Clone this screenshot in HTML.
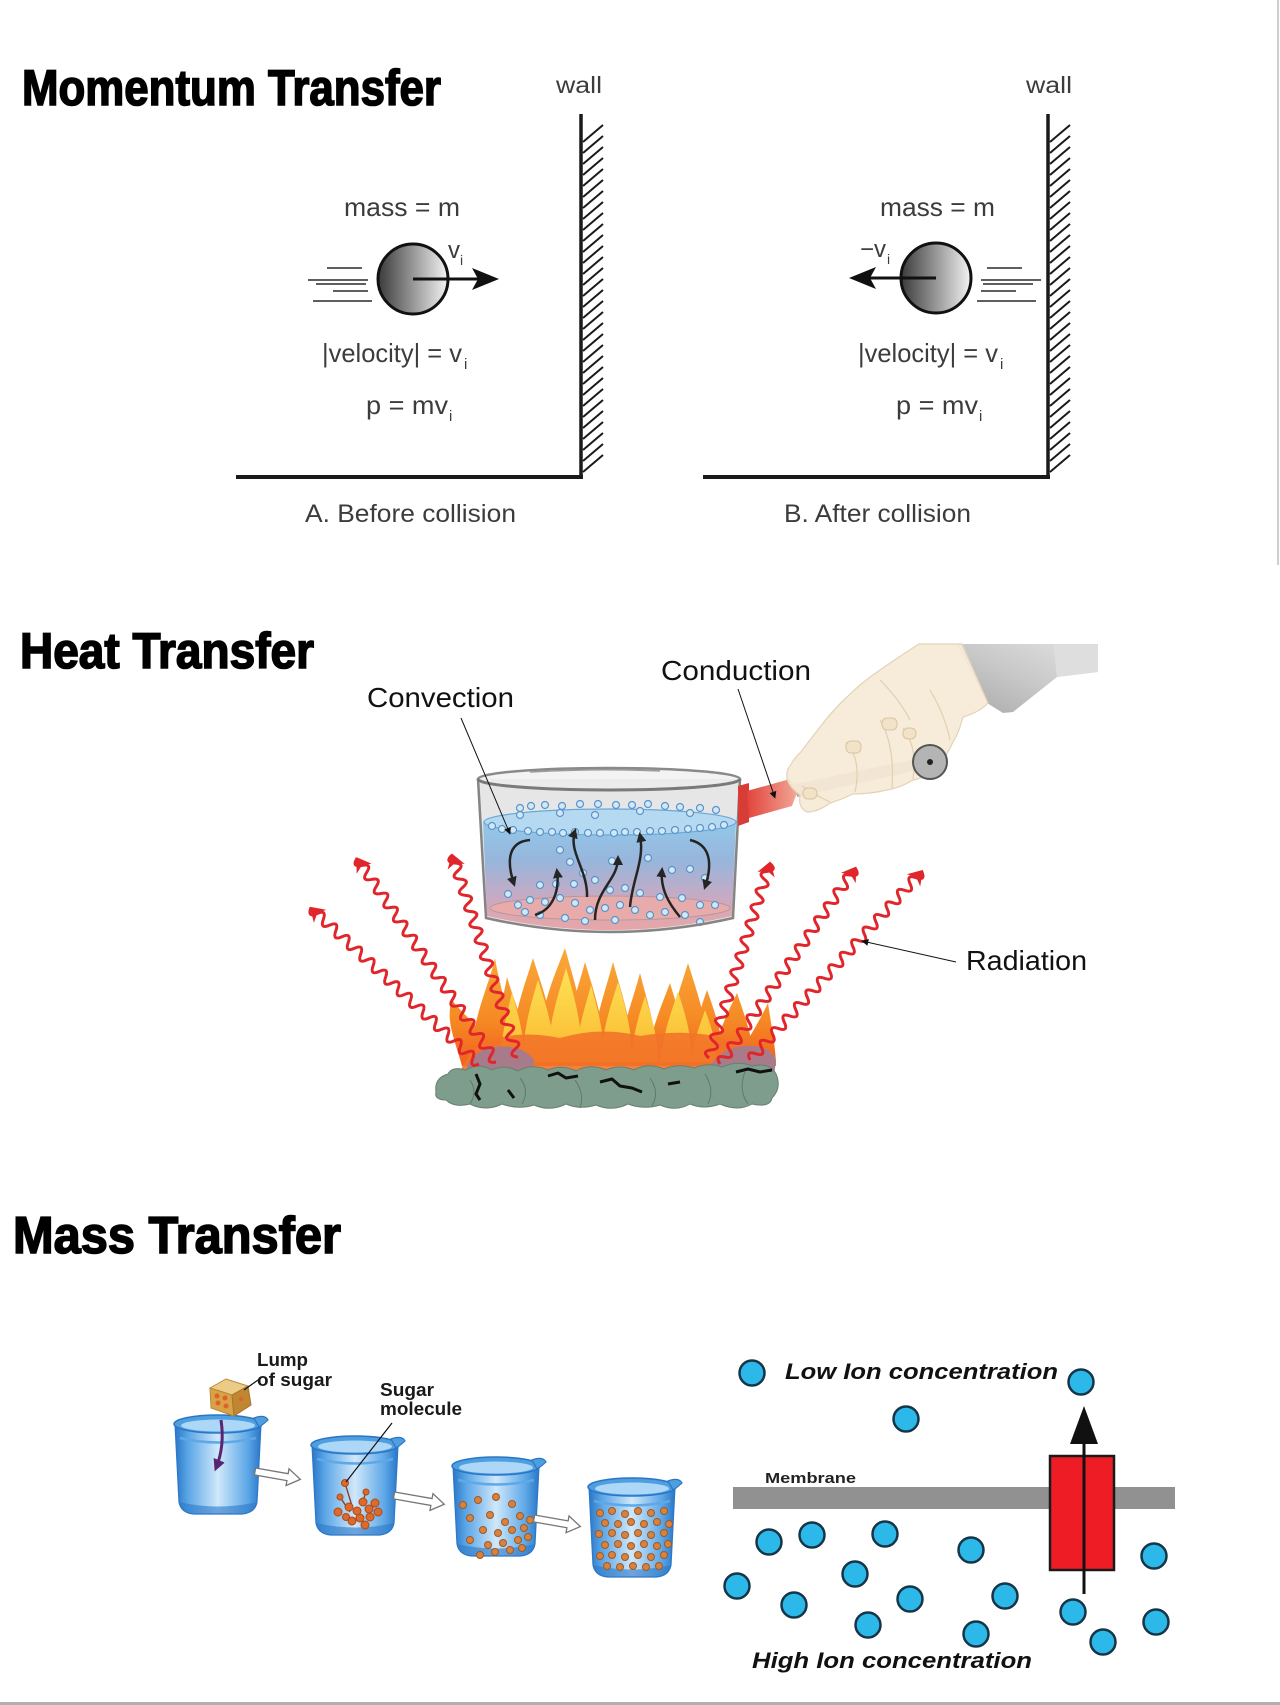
<!DOCTYPE html>
<html><head><meta charset="utf-8"><style>
html,body{margin:0;padding:0;background:#fff;}
svg{display:block;}
.t{font-family:"Liberation Sans",Arial,sans-serif;}
</style></head><body>
<svg width="1280" height="1705" viewBox="0 0 1280 1705" xmlns="http://www.w3.org/2000/svg">
<defs>
<linearGradient id="ball" x1="0" y1="0" x2="1" y2="0"><stop offset="0" stop-color="#3a3a3a"/><stop offset="1" stop-color="#f4f4f4"/></linearGradient>
<linearGradient id="water" gradientUnits="userSpaceOnUse" x1="0" y1="822" x2="0" y2="935"><stop offset="0" stop-color="#8ccaf0"/><stop offset="0.35" stop-color="#93b5e0"/><stop offset="0.7" stop-color="#cfa7c2"/><stop offset="1" stop-color="#f3a29e"/></linearGradient>
<linearGradient id="bkg" x1="0" y1="0" x2="1" y2="0"><stop offset="0" stop-color="#2a76c6"/><stop offset="0.15" stop-color="#5ba6e6"/><stop offset="0.5" stop-color="#cfe8fb"/><stop offset="0.85" stop-color="#5ba6e6"/><stop offset="1" stop-color="#2a76c6"/></linearGradient>
<linearGradient id="sleeve" x1="0" y1="1" x2="1" y2="0"><stop offset="0" stop-color="#a9a9a9"/><stop offset="0.5" stop-color="#c9c9c9"/><stop offset="1" stop-color="#e2e2e2"/></linearGradient>
<linearGradient id="handle" x1="0" y1="0" x2="1" y2="0"><stop offset="0" stop-color="#e2443c"/><stop offset="1" stop-color="#f2a898"/></linearGradient>
<linearGradient id="fo" gradientUnits="userSpaceOnUse" x1="0" y1="950" x2="0" y2="1066"><stop offset="0" stop-color="#f9a93a"/><stop offset="0.6" stop-color="#f68a24"/><stop offset="1" stop-color="#f0601f"/></linearGradient>
<linearGradient id="fy" gradientUnits="userSpaceOnUse" x1="0" y1="960" x2="0" y2="1066"><stop offset="0" stop-color="#fde65a"/><stop offset="0.7" stop-color="#fcc43a"/><stop offset="1" stop-color="#f7962a"/></linearGradient>
<marker id="ah" viewBox="0 0 10 10" refX="7" refY="5" markerWidth="4" markerHeight="4" orient="auto"><path d="M0,0 L10,5 L0,10 z" fill="#111"/></marker>
<marker id="ahs" viewBox="0 0 10 10" refX="9" refY="5" markerUnits="userSpaceOnUse" markerWidth="9" markerHeight="7" orient="auto"><path d="M0,0 L10,5 L0,10 z" fill="#111"/></marker>
<marker id="ahp" viewBox="0 0 10 10" refX="7" refY="5" markerWidth="4" markerHeight="4" orient="auto"><path d="M0,0 L10,5 L0,10 z" fill="#5a2470"/></marker>
<g id="bk">
  <path d="M3,10 L7,88 Q9,99 22,100 L70,100 Q83,99 85,88 L89,10 Z" fill="url(#bkg)" stroke="#2d78c8" stroke-width="1.2"/>
  <path d="M7,88 Q9,99 22,100 L70,100 Q83,99 85,88 Q46,97 7,88Z" fill="#2d78c8" opacity="0.6"/>
  <path d="M8,24 Q46,33 84,24" stroke="#5ea8e8" stroke-width="2.5" fill="none"/>
  <ellipse cx="46" cy="10" rx="44" ry="9" fill="#4f9ee0" stroke="#2a76c6" stroke-width="1.5"/>
  <ellipse cx="46" cy="11.5" rx="37" ry="6" fill="#acd7f6"/>
  <path d="M82,4 Q93,0 96,6 Q92,10 87,13 Z" fill="#4f9ee0" stroke="#2a76c6" stroke-width="1.2"/>
</g>
</defs>

<!-- borders -->
<line x1="1278" y1="0" x2="1278" y2="565" stroke="#cfcfcf" stroke-width="2"/>
<rect x="0" y="1702" width="1280" height="3" fill="#b0b0b0"/>

<!-- ============ MOMENTUM ============ -->
<text class="t" x="22" y="105" font-size="50" font-weight="bold" stroke="#000" stroke-width="1.6" textLength="419" lengthAdjust="spacingAndGlyphs">Momentum Transfer</text>

<g fill="#3c3c3c" class="t">
<text class="t" x="556" y="93" font-size="23" textLength="46" lengthAdjust="spacingAndGlyphs">wall</text>
<text class="t" x="1026" y="93" font-size="23" textLength="46" lengthAdjust="spacingAndGlyphs">wall</text>
<text class="t" x="344" y="216" font-size="26" textLength="116" lengthAdjust="spacingAndGlyphs">mass = m</text>
<text class="t" x="880" y="216" font-size="26" textLength="115" lengthAdjust="spacingAndGlyphs">mass = m</text>
<text class="t" x="448" y="258" font-size="24">v</text><text class="t" x="460" y="265" font-size="14">i</text>
<text class="t" x="860" y="257" font-size="24" textLength="26" lengthAdjust="spacingAndGlyphs">−v</text><text class="t" x="887" y="264" font-size="14">i</text>
<text class="t" x="322" y="362" font-size="26" textLength="140" lengthAdjust="spacingAndGlyphs">|velocity| = v</text><text class="t" x="464" y="369" font-size="15">i</text>
<text class="t" x="858" y="362" font-size="26" textLength="140" lengthAdjust="spacingAndGlyphs">|velocity| = v</text><text class="t" x="1000" y="369" font-size="15">i</text>
<text class="t" x="366" y="414" font-size="26" textLength="82" lengthAdjust="spacingAndGlyphs">p = mv</text><text class="t" x="449" y="421" font-size="15">i</text>
<text class="t" x="896" y="414" font-size="26" textLength="82" lengthAdjust="spacingAndGlyphs">p = mv</text><text class="t" x="979" y="421" font-size="15">i</text>
<text class="t" x="305" y="522" font-size="25" textLength="211" lengthAdjust="spacingAndGlyphs">A. Before collision</text>
<text class="t" x="784" y="522" font-size="25" textLength="187" lengthAdjust="spacingAndGlyphs">B. After collision</text>
</g>

<!-- walls & floors -->
<g stroke="#1a1a1a" fill="none">
<line x1="581" y1="114" x2="581" y2="479" stroke-width="3.5"/>
<line x1="236" y1="477" x2="583" y2="477" stroke-width="4"/>
<line x1="1048" y1="114" x2="1048" y2="479" stroke-width="3.5"/>
<line x1="703" y1="477" x2="1050" y2="477" stroke-width="4"/>
<path stroke-width="2" d="M583,142l20,-17m-20,28l20,-17m-20,28l20,-17m-20,28l20,-17m-20,28l20,-17m-20,28l20,-17m-20,28l20,-17m-20,28l20,-17m-20,28l20,-17m-20,28l20,-17m-20,28l20,-17m-20,28l20,-17m-20,28l20,-17m-20,28l20,-17m-20,28l20,-17m-20,28l20,-17m-20,28l20,-17m-20,28l20,-17m-20,28l20,-17m-20,28l20,-17m-20,28l20,-17m-20,28l20,-17m-20,28l20,-17m-20,28l20,-17m-20,28l20,-17m-20,28l20,-17m-20,28l20,-17m-20,28l20,-17m-20,28l20,-17m-20,28l20,-17m-20,28l20,-17"/>
<path stroke-width="2" d="M1050,142l20,-17m-20,28l20,-17m-20,28l20,-17m-20,28l20,-17m-20,28l20,-17m-20,28l20,-17m-20,28l20,-17m-20,28l20,-17m-20,28l20,-17m-20,28l20,-17m-20,28l20,-17m-20,28l20,-17m-20,28l20,-17m-20,28l20,-17m-20,28l20,-17m-20,28l20,-17m-20,28l20,-17m-20,28l20,-17m-20,28l20,-17m-20,28l20,-17m-20,28l20,-17m-20,28l20,-17m-20,28l20,-17m-20,28l20,-17m-20,28l20,-17m-20,28l20,-17m-20,28l20,-17m-20,28l20,-17m-20,28l20,-17m-20,28l20,-17m-20,28l20,-17"/>
</g>
<!-- balls -->
<g stroke="#2a2a2a" stroke-width="1.6">
<path d="M327,268H362M308,280H368M316,284H366M333,291H368M313,301H372"/>
<path d="M1022,268H987M1041,280H981M1033,284H983M1016,291H981M1036,301H977"/>
</g>
<circle cx="413" cy="279" r="35" fill="url(#ball)" stroke="#111" stroke-width="3"/>
<line x1="413" y1="279" x2="478" y2="279" stroke="#111" stroke-width="3"/>
<polygon points="499,279 472,268 478,279 472,290" fill="#111"/>
<circle cx="936" cy="278" r="35" fill="url(#ball)" stroke="#111" stroke-width="3"/>
<line x1="936" y1="278" x2="870" y2="278" stroke="#111" stroke-width="3"/>
<polygon points="849,278 876,267 870,278 876,289" fill="#111"/>

<!-- ============ HEAT ============ -->
<text class="t" x="20" y="668" font-size="50" font-weight="bold" stroke="#000" stroke-width="1.6" textLength="294" lengthAdjust="spacingAndGlyphs">Heat Transfer</text>
<text class="t" x="367" y="707" font-size="28" fill="#111" textLength="147" lengthAdjust="spacingAndGlyphs">Convection</text>
<text class="t" x="661" y="680" font-size="28" fill="#111" textLength="150" lengthAdjust="spacingAndGlyphs">Conduction</text>
<text class="t" x="966" y="970" font-size="28" fill="#111" textLength="121" lengthAdjust="spacingAndGlyphs">Radiation</text>

<!-- fire -->
<g>
<g fill="url(#fo)">
<path d="M462,1066 C455,1040 445,1020 452,1000 C468,1020 492,1040 518,1066 Z"/>
<path d="M472,1066 C470,1020 488,990 495,958 C500,990 515,1030 512,1066 Z"/>
<path d="M492,1066 C495,1025 503,1000 507,977 C515,1005 530,1035 528,1066Z"/>
<path d="M510,1066 C512,1015 525,985 533,958 C543,990 558,1030 555,1066Z"/>
<path d="M535,1066 C540,1005 555,975 565,948 C575,985 590,1030 585,1066Z"/>
<path d="M562,1066 C565,1020 578,990 585,962 C595,995 608,1035 605,1066Z"/>
<path d="M590,1066 C595,1015 606,990 613,962 C622,995 636,1035 632,1066Z"/>
<path d="M618,1066 C622,1025 633,1000 640,973 C648,1005 660,1040 656,1066Z"/>
<path d="M646,1066 C650,1030 662,1005 670,983 C678,1010 690,1045 686,1066Z"/>
<path d="M664,1066 C668,1020 680,990 688,963 C698,995 712,1035 708,1066Z"/>
<path d="M688,1066 C692,1035 700,1010 707,990 C716,1015 726,1045 722,1066Z"/>
<path d="M712,1066 C716,1035 728,1012 737,993 C746,1020 756,1045 752,1066Z"/>
<path d="M732,1066 C748,1040 760,1020 768,1003 C772,1030 776,1050 776,1066Z"/>
</g>
<g fill="url(#fy)">
<path d="M500,1062 C502,1030 508,1010 512,992 C518,1015 526,1040 524,1062Z"/>
<path d="M522,1062 C524,1025 532,1000 538,980 C546,1005 556,1035 553,1062Z"/>
<path d="M546,1062 C550,1015 560,990 566,968 C574,995 584,1030 581,1062Z"/>
<path d="M575,1062 C578,1025 586,1005 591,985 C598,1010 606,1040 603,1062Z"/>
<path d="M600,1062 C604,1020 613,1000 618,982 C626,1008 634,1040 631,1062Z"/>
<path d="M630,1062 C634,1030 640,1012 645,996 C652,1018 660,1045 657,1062Z"/>
<path d="M660,1062 C664,1030 672,1010 678,992 C686,1015 694,1045 690,1062Z"/>
<path d="M690,1062 C694,1040 700,1025 705,1010 C712,1028 718,1048 715,1062Z"/>
</g>
<path d="M460,1072 Q470,1046 492,1040 Q520,1030 560,1038 Q600,1026 640,1036 Q690,1028 730,1040 Q762,1046 774,1070 Z" fill="#f27328" opacity="0.9"/>
<path d="M465,1074 Q470,1050 495,1047 Q522,1044 534,1060 L532,1076 Z" fill="#a87b8b"/>
<path d="M710,1068 Q718,1049 744,1046 Q770,1044 776,1060 L774,1076 Z" fill="#a87b8b"/>
<path d="M436,1092 Q434,1078 448,1074 Q452,1066 466,1070 Q478,1062 492,1070 Q505,1064 518,1071 Q532,1063 548,1070 Q562,1064 576,1071 Q590,1063 606,1070 Q620,1064 634,1070 Q648,1062 664,1069 Q678,1063 694,1068 Q708,1062 722,1067 Q738,1060 752,1066 Q770,1062 776,1074 Q782,1088 772,1098 Q770,1108 752,1104 Q738,1112 720,1104 Q704,1110 690,1104 Q676,1112 660,1105 Q644,1110 628,1104 Q612,1112 596,1105 Q580,1110 566,1104 Q550,1112 534,1105 Q518,1110 502,1104 Q486,1112 470,1104 Q454,1108 446,1100 Q434,1100 436,1092 Z" fill="#7f9d8d" stroke="#66806f" stroke-width="1"/>
<g stroke="#5f7a6c" stroke-width="1" fill="none">
<path d="M470,1080 Q478,1092 470,1104"/><path d="M520,1078 Q530,1090 522,1104"/><path d="M575,1080 Q585,1094 580,1108"/><path d="M650,1078 Q660,1092 652,1106"/><path d="M705,1074 Q715,1090 708,1104"/><path d="M745,1072 Q738,1090 748,1104"/>
</g>
<g stroke="#111" stroke-width="3" fill="none" stroke-linejoin="round">
<path d="M476,1074 L480,1084 L476,1094 L480,1100"/>
<path d="M548,1076 L558,1073 L566,1078 L578,1076"/>
<path d="M600,1082 L612,1079 L620,1086 L632,1088 L642,1092"/>
<path d="M736,1072 L748,1069 L760,1072 L772,1070"/>
<path d="M508,1090 L514,1098"/>
<path d="M668,1084 L680,1082"/>
</g>
</g>

<!-- radiation waves -->
<g stroke="#e0262b" stroke-width="3" fill="none">
<path transform="translate(479,1064) rotate(-137.1)" d="M0,0 q4.25,-10 8.5,0 t8.5,0 t8.5,0 t8.5,0 t8.5,0 t8.5,0 t8.5,0 t8.5,0 t8.5,0 t8.5,0 t8.5,0 t8.5,0 t8.5,0 t8.5,0 t8.5,0 t8.5,0 t8.5,0 t8.5,0 t8.5,0 t8.5,0 t8.5,0 t8.5,0 t8.5,0 t8.5,0 t8.5,0 t8.5,0 t8.5,0"/>
<path transform="translate(496,1062) rotate(-124.3)" d="M0,0 q4.25,-10 8.5,0 t8.5,0 t8.5,0 t8.5,0 t8.5,0 t8.5,0 t8.5,0 t8.5,0 t8.5,0 t8.5,0 t8.5,0 t8.5,0 t8.5,0 t8.5,0 t8.5,0 t8.5,0 t8.5,0 t8.5,0 t8.5,0 t8.5,0 t8.5,0 t8.5,0 t8.5,0 t8.5,0 t8.5,0 t8.5,0 t8.5,0 t8.5,0 t8.5,0"/>
<path transform="translate(518,1057) rotate(-108)" d="M0,0 q4.25,-10 8.5,0 t8.5,0 t8.5,0 t8.5,0 t8.5,0 t8.5,0 t8.5,0 t8.5,0 t8.5,0 t8.5,0 t8.5,0 t8.5,0 t8.5,0 t8.5,0 t8.5,0 t8.5,0 t8.5,0 t8.5,0 t8.5,0 t8.5,0 t8.5,0 t8.5,0 t8.5,0 t8.5,0 t8.5,0"/>
<path transform="translate(709,1058) rotate(-72.7)" d="M0,0 q4.25,-10 8.5,0 t8.5,0 t8.5,0 t8.5,0 t8.5,0 t8.5,0 t8.5,0 t8.5,0 t8.5,0 t8.5,0 t8.5,0 t8.5,0 t8.5,0 t8.5,0 t8.5,0 t8.5,0 t8.5,0 t8.5,0 t8.5,0 t8.5,0 t8.5,0 t8.5,0 t8.5,0 t8.5,0"/>
<path transform="translate(720,1064) rotate(-55.4)" d="M0,0 q4.25,-10 8.5,0 t8.5,0 t8.5,0 t8.5,0 t8.5,0 t8.5,0 t8.5,0 t8.5,0 t8.5,0 t8.5,0 t8.5,0 t8.5,0 t8.5,0 t8.5,0 t8.5,0 t8.5,0 t8.5,0 t8.5,0 t8.5,0 t8.5,0 t8.5,0 t8.5,0 t8.5,0 t8.5,0 t8.5,0 t8.5,0 t8.5,0 t8.5,0"/>
<path transform="translate(750,1060) rotate(-47.7)" d="M0,0 q4.25,-10 8.5,0 t8.5,0 t8.5,0 t8.5,0 t8.5,0 t8.5,0 t8.5,0 t8.5,0 t8.5,0 t8.5,0 t8.5,0 t8.5,0 t8.5,0 t8.5,0 t8.5,0 t8.5,0 t8.5,0 t8.5,0 t8.5,0 t8.5,0 t8.5,0 t8.5,0 t8.5,0 t8.5,0 t8.5,0 t8.5,0 t8.5,0 t8.5,0 t8.5,0 t8.5,0"/>
</g>
<g fill="#e0262b">
<path transform="translate(479,1064) rotate(-137.1)" d="M231,0 L217,-9 L221,0 L217,9Z"/>
<path transform="translate(496,1062) rotate(-124.3)" d="M248,0 L234,-9 L238,0 L234,9Z"/>
<path transform="translate(518,1057) rotate(-108)" d="M214,0 L200,-9 L204,0 L200,9Z"/>
<path transform="translate(709,1058) rotate(-72.7)" d="M206,0 L192,-9 L196,0 L192,9Z"/>
<path transform="translate(720,1064) rotate(-55.4)" d="M240,0 L226,-9 L230,0 L226,9Z"/>
<path transform="translate(750,1060) rotate(-47.7)" d="M257,0 L243,-9 L247,0 L243,9Z"/>
</g>

<!-- pot -->
<path d="M478,779 L486,918 Q610,946 733,918 L740,779 Z" fill="#ececec"/>
<ellipse cx="609" cy="779" rx="131" ry="11" fill="#f3f3f3" stroke="#8a8a8a" stroke-width="2.5"/>
<path d="M483,822 L487,916 Q610,944 732,916 L736,822 Z" fill="url(#water)"/>
<ellipse cx="610" cy="822" rx="126" ry="13" fill="#b4ddf7" stroke="#5ea6dc" stroke-width="1.2"/>
<ellipse cx="610" cy="908" rx="120" ry="12" fill="#f3aaa6" stroke="#b39090" stroke-width="1" opacity="0.85"/>
<g fill="#d8eefb" stroke="#4a8fd0" stroke-width="1.2">
<circle cx="492" cy="826" r="3.5"/><circle cx="502" cy="829" r="3.5"/><circle cx="513" cy="830" r="3.5"/><circle cx="528" cy="831" r="3.5"/><circle cx="540" cy="832" r="3.5"/><circle cx="552" cy="832" r="3.5"/><circle cx="563" cy="833" r="3.5"/><circle cx="575" cy="832" r="3.5"/><circle cx="588" cy="833" r="3.5"/><circle cx="600" cy="833" r="3.5"/><circle cx="614" cy="833" r="3.5"/><circle cx="625" cy="832" r="3.5"/><circle cx="637" cy="832" r="3.5"/><circle cx="650" cy="831" r="3.5"/><circle cx="662" cy="831" r="3.5"/><circle cx="675" cy="830" r="3.5"/><circle cx="688" cy="829" r="3.5"/><circle cx="700" cy="828" r="3.5"/><circle cx="712" cy="827" r="3.5"/><circle cx="724" cy="825" r="3.5"/>
<circle cx="520" cy="808" r="3.5"/><circle cx="531" cy="806" r="3.5"/><circle cx="545" cy="805" r="3.5"/><circle cx="562" cy="806" r="3.5"/><circle cx="580" cy="804" r="3.5"/><circle cx="598" cy="804" r="3.5"/><circle cx="616" cy="805" r="3.5"/><circle cx="632" cy="805" r="3.5"/><circle cx="648" cy="804" r="3.5"/><circle cx="665" cy="806" r="3.5"/><circle cx="680" cy="807" r="3.5"/><circle cx="700" cy="808" r="3.5"/><circle cx="716" cy="810" r="3.5"/><circle cx="560" cy="813" r="3.5"/><circle cx="595" cy="815" r="3.5"/><circle cx="640" cy="811" r="3.5"/><circle cx="690" cy="813" r="3.5"/><circle cx="520" cy="815" r="3.5"/>
<circle cx="560" cy="850" r="3.5"/><circle cx="570" cy="862" r="3.5"/><circle cx="583" cy="873" r="3.5"/><circle cx="612" cy="861" r="3.5"/><circle cx="648" cy="858" r="3.5"/><circle cx="672" cy="870" r="3.5"/><circle cx="690" cy="869" r="3.5"/><circle cx="705" cy="878" r="3.5"/><circle cx="540" cy="885" r="3.5"/><circle cx="556" cy="884" r="3.5"/><circle cx="574" cy="884" r="3.5"/><circle cx="595" cy="880" r="3.5"/><circle cx="610" cy="890" r="3.5"/><circle cx="625" cy="888" r="3.5"/><circle cx="640" cy="893" r="3.5"/><circle cx="660" cy="897" r="3.5"/><circle cx="682" cy="898" r="3.5"/><circle cx="700" cy="905" r="3.5"/><circle cx="715" cy="905" r="3.5"/><circle cx="508" cy="894" r="3.5"/><circle cx="518" cy="905" r="3.5"/><circle cx="530" cy="900" r="3.5"/><circle cx="545" cy="902" r="3.5"/><circle cx="560" cy="898" r="3.5"/><circle cx="575" cy="903" r="3.5"/><circle cx="590" cy="910" r="3.5"/><circle cx="605" cy="908" r="3.5"/><circle cx="620" cy="905" r="3.5"/><circle cx="635" cy="910" r="3.5"/><circle cx="650" cy="915" r="3.5"/><circle cx="665" cy="912" r="3.5"/><circle cx="540" cy="915" r="3.5"/><circle cx="565" cy="918" r="3.5"/><circle cx="585" cy="921" r="3.5"/><circle cx="615" cy="920" r="3.5"/><circle cx="685" cy="915" r="3.5"/><circle cx="700" cy="922" r="3.5"/><circle cx="525" cy="912" r="3.5"/>
</g>
<g stroke="#111" stroke-width="2.5" fill="none" marker-end="url(#ah)">
<path d="M530,840 C505,842 508,866 514,884"/>
<path d="M535,915 C552,910 560,892 557,871"/>
<path d="M587,897 C588,870 568,852 575,831"/>
<path d="M595,920 C595,890 618,880 618,858"/>
<path d="M630,907 C632,880 645,860 640,835"/>
<path d="M680,917 C670,905 660,890 662,870"/>
<path d="M690,840 C712,845 712,866 705,887"/>
</g>
<path d="M478,779 L486,918 Q610,946 733,918 L740,779" fill="rgba(190,190,190,0.12)" stroke="#858585" stroke-width="2.5"/>
<path d="M478,779 A131,11 0 0 0 740,779" fill="none" stroke="#7a7a7a" stroke-width="3"/>
<path d="M530,772 Q600,768 660,771" stroke="#9a9a9a" stroke-width="1.5" fill="none"/>

<!-- handle -->
<path d="M738,786 L749,783 L749,822 L738,826 Z" fill="#d83c36"/>
<path d="M747,791 L790,779 L798,790 L792,806 L749,818 Z" fill="url(#handle)"/>
<path d="M795,784 L925,757 L927,768 L797,797 Z" fill="#b9a8a4"/>

<!-- sleeve & hand -->
<path d="M957,644 L1098,644 L1098,672 L1057,677 L1013,712 L1003,713 L987,703 Z" fill="url(#sleeve)"/>
<path d="M1053,644 L1098,644 L1098,672 L1057,677 Z" fill="#dedede"/>
<path d="M919,644 L962,644 L988,703 Q980,712 963,717 Q958,735 953,742 Q945,760 933,770 Q925,778 913,780 Q900,788 887,790 Q870,794 853,794 Q840,800 830,803 Q818,812 807,812 Q798,808 800,795 Q790,788 787,779 Q786,770 790,766 Q795,757 800,753 Q810,740 820,727 Q833,710 847,697 Q862,682 880,670 Q900,656 919,644 Z" fill="#f6ead7" fill-opacity="0.93" stroke="#e4d2b6" stroke-width="1.2"/>
<g fill="none" stroke="#e2cfb0" stroke-width="1.2">
<path d="M880,720 Q895,745 892,788"/>
<path d="M903,728 Q918,748 913,779"/>
<path d="M846,742 Q862,760 855,792"/>
<path d="M802,786 Q815,795 830,802"/>
<path d="M880,680 Q900,700 910,720"/>
<path d="M930,690 Q945,715 950,740"/>
</g>
<g fill="#f2e2c8" stroke="#d9c4a2" stroke-width="1">
<rect x="882" y="718" width="15" height="12" rx="5"/><rect x="903" y="728" width="13" height="11" rx="5"/><rect x="846" y="741" width="15" height="12" rx="5"/><rect x="803" y="788" width="14" height="11" rx="5"/>
</g>
<circle cx="930" cy="762" r="17" fill="#b4b4b4" stroke="#555" stroke-width="2"/>
<circle cx="930" cy="762" r="3" fill="#222"/>

<!-- leaders heat -->
<g stroke="#111" stroke-width="1" fill="none" marker-end="url(#ahs)">
<line x1="461" y1="718" x2="510" y2="834"/>
<line x1="738" y1="689" x2="775" y2="798"/>
<line x1="956" y1="962" x2="862" y2="941"/>
</g>

<!-- ============ MASS ============ -->
<text class="t" x="13" y="1253" font-size="52" font-weight="bold" stroke="#000" stroke-width="1.6" textLength="328" lengthAdjust="spacingAndGlyphs">Mass Transfer</text>

<!-- beakers -->
<use href="#bk" x="172" y="1414"/>
<use href="#bk" x="309" y="1435"/>
<use href="#bk" x="450" y="1456"/>
<use href="#bk" x="586" y="1477"/>

<!-- sugar cube -->
<polygon points="210,1388 226,1379 248,1386 232,1395" fill="#ebcb86" stroke="#b88a3a" stroke-width="1"/>
<polygon points="210,1388 232,1395 234,1416 211,1408" fill="#d8a246" stroke="#b88a3a" stroke-width="1"/>
<polygon points="232,1395 248,1386 251,1405 234,1416" fill="#c08733" stroke="#a4762c" stroke-width="1"/>
<g fill="#e0602a"><circle cx="217" cy="1396" r="2.5"/><circle cx="225" cy="1398" r="2.5"/><circle cx="218" cy="1403" r="2.5"/><circle cx="226" cy="1406" r="2.5"/><circle cx="241" cy="1399" r="2"/></g>
<path d="M221,1420 Q225,1446 216,1468" stroke="#5a2470" stroke-width="3" fill="none" marker-end="url(#ahp)"/>
<line x1="258" y1="1380" x2="244" y2="1390" stroke="#111" stroke-width="1.2"/>

<!-- beaker 2 cluster -->
<g stroke="#8a3a18" stroke-width="1.3">
<line x1="345" y1="1483" x2="352" y2="1506"/><line x1="340" y1="1497" x2="350" y2="1512"/><line x1="366" y1="1492" x2="362" y2="1504"/>
</g>
<g fill="#dc6a2c" stroke="#a94a1a" stroke-width="1">
<circle cx="345" cy="1483" r="3.5"/><circle cx="340" cy="1497" r="3"/><circle cx="366" cy="1492" r="3"/>
<circle cx="338" cy="1512" r="4"/><circle cx="349" cy="1507" r="4"/><circle cx="357" cy="1511" r="4"/><circle cx="363" cy="1502" r="4"/><circle cx="369" cy="1509" r="4"/><circle cx="375" cy="1503" r="4"/><circle cx="360" cy="1518" r="4"/><circle cx="370" cy="1517" r="4"/><circle cx="378" cy="1512" r="4"/><circle cx="352" cy="1521" r="4"/><circle cx="365" cy="1525" r="4"/><circle cx="346" cy="1517" r="3.5"/>
</g>
<line x1="392" y1="1423" x2="346" y2="1482" stroke="#111" stroke-width="1.2"/>

<!-- beaker 3 dots -->
<g fill="#d8823e" stroke="#9a5a2a" stroke-width="1">
<circle cx="463" cy="1505" r="3.5"/><circle cx="478" cy="1500" r="3.5"/><circle cx="496" cy="1497" r="3.5"/><circle cx="512" cy="1504" r="3.5"/><circle cx="470" cy="1518" r="3.5"/><circle cx="490" cy="1515" r="3.5"/><circle cx="505" cy="1522" r="3.5"/><circle cx="520" cy="1516" r="3.5"/><circle cx="483" cy="1530" r="3.5"/><circle cx="498" cy="1533" r="3.5"/><circle cx="512" cy="1530" r="3.5"/><circle cx="524" cy="1528" r="3.5"/><circle cx="470" cy="1540" r="3.5"/><circle cx="488" cy="1545" r="3.5"/><circle cx="503" cy="1543" r="3.5"/><circle cx="518" cy="1540" r="3.5"/><circle cx="528" cy="1537" r="3.5"/><circle cx="495" cy="1552" r="3.5"/><circle cx="510" cy="1550" r="3.5"/><circle cx="522" cy="1548" r="3.5"/><circle cx="480" cy="1555" r="3.5"/><circle cx="530" cy="1520" r="3.5"/>
</g>
<!-- beaker 4 dots -->
<g fill="#d8823e" stroke="#9a5a2a" stroke-width="1">
<circle cx="600" cy="1513" r="3.5"/><circle cx="612" cy="1511" r="3.5"/><circle cx="625" cy="1514" r="3.5"/><circle cx="638" cy="1511" r="3.5"/><circle cx="651" cy="1513" r="3.5"/><circle cx="664" cy="1511" r="3.5"/>
<circle cx="605" cy="1523" r="3.5"/><circle cx="618" cy="1524" r="3.5"/><circle cx="631" cy="1522" r="3.5"/><circle cx="644" cy="1524" r="3.5"/><circle cx="657" cy="1522" r="3.5"/><circle cx="669" cy="1524" r="3.5"/>
<circle cx="599" cy="1534" r="3.5"/><circle cx="612" cy="1533" r="3.5"/><circle cx="625" cy="1535" r="3.5"/><circle cx="638" cy="1533" r="3.5"/><circle cx="651" cy="1535" r="3.5"/><circle cx="664" cy="1533" r="3.5"/>
<circle cx="605" cy="1545" r="3.5"/><circle cx="618" cy="1544" r="3.5"/><circle cx="631" cy="1546" r="3.5"/><circle cx="644" cy="1544" r="3.5"/><circle cx="657" cy="1546" r="3.5"/><circle cx="668" cy="1544" r="3.5"/>
<circle cx="600" cy="1556" r="3.5"/><circle cx="612" cy="1555" r="3.5"/><circle cx="625" cy="1557" r="3.5"/><circle cx="638" cy="1555" r="3.5"/><circle cx="651" cy="1557" r="3.5"/><circle cx="664" cy="1555" r="3.5"/>
<circle cx="607" cy="1566" r="3.5"/><circle cx="620" cy="1567" r="3.5"/><circle cx="633" cy="1566" r="3.5"/><circle cx="646" cy="1567" r="3.5"/><circle cx="659" cy="1566" r="3.5"/>
</g>
<!-- hollow arrows -->
<g fill="#fff" stroke="#777" stroke-width="1.3">
<polygon transform="translate(256,1466) rotate(10)" points="0,2 33,2 33,-3 46,5.5 33,14 33,9 0,9"/>
<polygon transform="translate(395,1490) rotate(10)" points="0,2 38,2 38,-3 51,5.5 38,14 38,9 0,9"/>
<polygon transform="translate(535,1513) rotate(10)" points="0,2 34,2 34,-3 47,5.5 34,14 34,9 0,9"/>
</g>
<g class="t" fill="#1a1a1a" font-weight="bold">
<text class="t" x="257" y="1366" font-size="18" textLength="51" lengthAdjust="spacingAndGlyphs">Lump</text>
<text class="t" x="257" y="1386" font-size="18" textLength="75" lengthAdjust="spacingAndGlyphs">of sugar</text>
<text class="t" x="380" y="1396" font-size="18" textLength="54" lengthAdjust="spacingAndGlyphs">Sugar</text>
<text class="t" x="380" y="1415" font-size="18" textLength="82" lengthAdjust="spacingAndGlyphs">molecule</text>
</g>

<!-- ion diagram -->
<rect x="733" y="1487" width="442" height="22" fill="#919191"/>
<text class="t" x="765" y="1483" font-size="15" font-weight="bold" fill="#222" textLength="91" lengthAdjust="spacingAndGlyphs">Membrane</text>
<rect x="1050" y="1456" width="64" height="114" fill="#ee1c24" stroke="#1a1a1a" stroke-width="2.5"/>
<line x1="1084" y1="1594" x2="1084" y2="1440" stroke="#111" stroke-width="3"/>
<polygon points="1084,1406 1070,1444 1098,1444" fill="#111"/>
<g fill="#2db8ea" stroke="#163648" stroke-width="2.5">
<circle cx="752" cy="1373" r="12.5"/><circle cx="1081" cy="1382" r="12.5"/><circle cx="906" cy="1419" r="12.5"/>
<circle cx="769" cy="1542" r="12.5"/><circle cx="812" cy="1535" r="12.5"/><circle cx="885" cy="1534" r="12.5"/><circle cx="971" cy="1550" r="12.5"/><circle cx="1154" cy="1556" r="12.5"/><circle cx="855" cy="1574" r="12.5"/><circle cx="737" cy="1586" r="12.5"/><circle cx="910" cy="1599" r="12.5"/><circle cx="1005" cy="1596" r="12.5"/><circle cx="794" cy="1605" r="12.5"/><circle cx="1073" cy="1612" r="12.5"/><circle cx="1156" cy="1622" r="12.5"/><circle cx="868" cy="1625" r="12.5"/><circle cx="976" cy="1634" r="12.5"/><circle cx="1103" cy="1642" r="12.5"/>
</g>
<text class="t" x="785" y="1379" font-size="22" font-weight="bold" font-style="italic" fill="#111" textLength="273" lengthAdjust="spacingAndGlyphs">Low Ion concentration</text>
<text class="t" x="752" y="1668" font-size="22" font-weight="bold" font-style="italic" fill="#111" textLength="280" lengthAdjust="spacingAndGlyphs">High Ion concentration</text>
</svg>
</body></html>
